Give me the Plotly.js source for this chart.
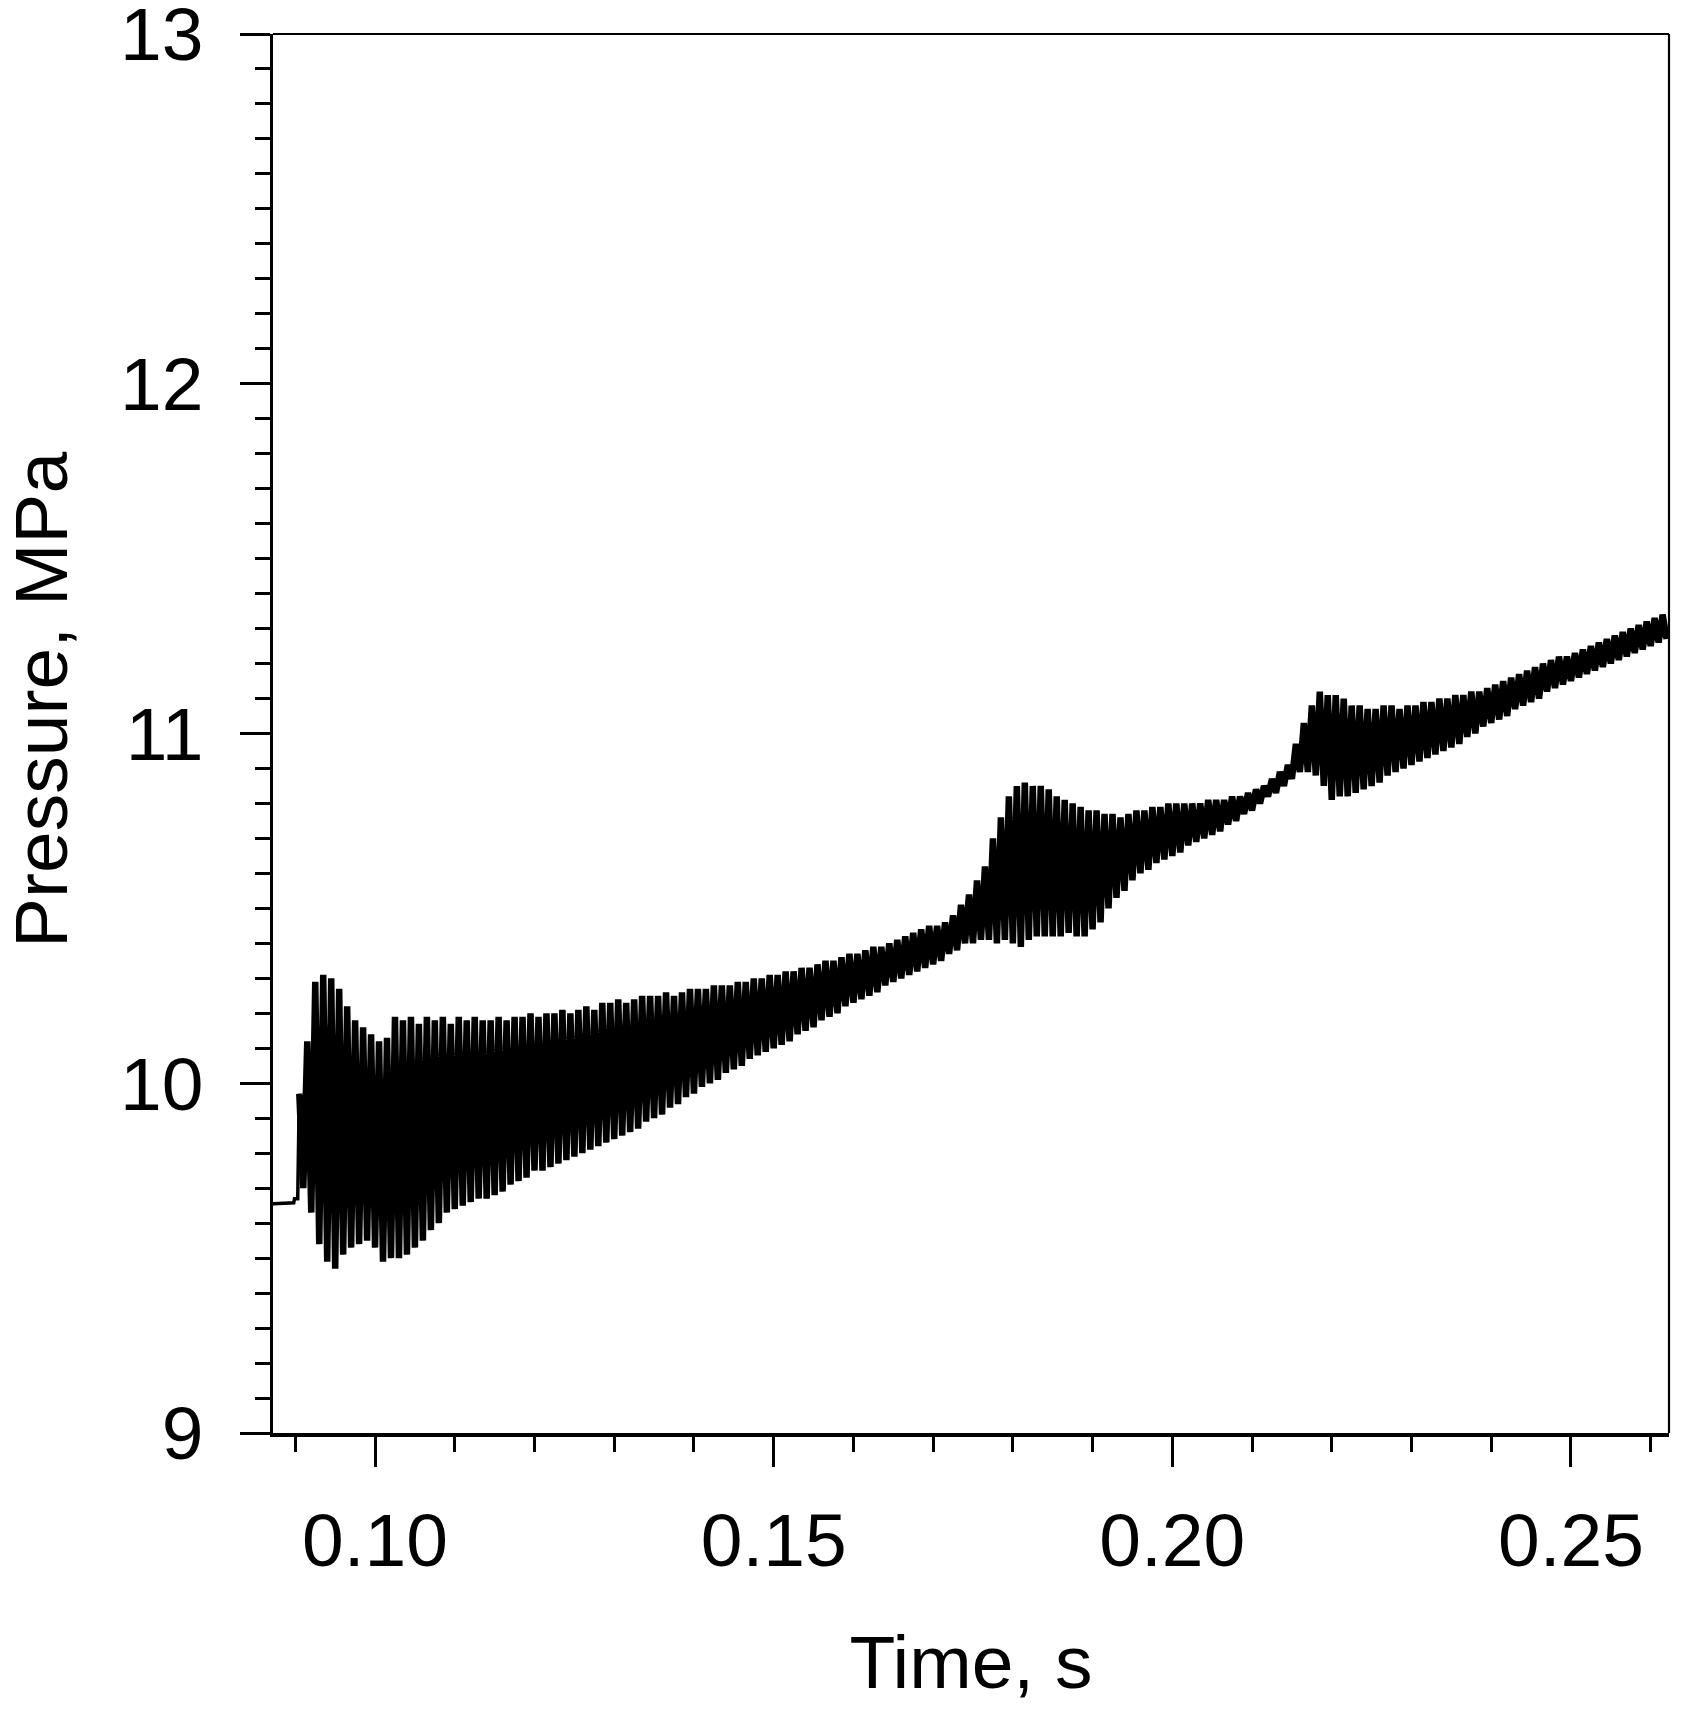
<!DOCTYPE html>
<html>
<head>
<meta charset="utf-8">
<script src="https://cdn.plot.ly/plotly-3.0.1.min.js"></script>
<style>
  html, body { margin: 0; padding: 0; background: #fff; }
  #chart { width: 1689px; height: 1724px; }
</style>
</head>
<body>
<div id="chart"></div>
<script>
// pressure before the oscillation starts (time in s, pressure in MPa)
const preT = [0.0865, 0.0898, 0.0899, 0.0903];
const preP = [9.655, 9.658, 9.67, 9.67];

// oscillation: one peak and one trough per cycle
const firstPeakT = 0.0905;
const cycle = 0.001;

const peakP = [
  9.97, 10.12, 10.29, 10.31, 10.30, 10.27, 10.22, 10.18, 10.16, 10.14,
  10.12, 10.13, 10.19, 10.18, 10.19, 10.17, 10.19, 10.18, 10.19, 10.17,
  10.19, 10.18, 10.19, 10.18, 10.18, 10.19, 10.18, 10.19, 10.19, 10.20,
  10.19, 10.20, 10.20, 10.21, 10.20, 10.21, 10.22, 10.21, 10.23, 10.23,
  10.24, 10.23, 10.24, 10.25, 10.25, 10.25, 10.26, 10.25, 10.26, 10.27,
  10.27, 10.27, 10.28, 10.28, 10.28, 10.29, 10.29, 10.30, 10.30, 10.31,
  10.31, 10.32, 10.32, 10.33, 10.33, 10.34, 10.35, 10.35, 10.36, 10.37,
  10.37, 10.38, 10.39, 10.39, 10.40, 10.41, 10.42, 10.43, 10.44, 10.45,
  10.45, 10.46, 10.48, 10.51, 10.54, 10.58, 10.62, 10.70, 10.76, 10.82,
  10.85, 10.86, 10.85, 10.85, 10.84, 10.82, 10.81, 10.80, 10.79, 10.78,
  10.78, 10.77, 10.77, 10.76, 10.77, 10.78, 10.78, 10.79, 10.79, 10.80,
  10.80, 10.80, 10.80, 10.80, 10.81, 10.81, 10.81, 10.82, 10.82, 10.83,
  10.84, 10.85, 10.87, 10.89, 10.91, 10.97, 11.03, 11.08, 11.12, 11.11,
  11.11, 11.10, 11.08, 11.08, 11.07, 11.07, 11.08, 11.08, 11.07, 11.08,
  11.08, 11.09, 11.09, 11.10, 11.10, 11.11, 11.11, 11.12, 11.12, 11.13,
  11.14, 11.15, 11.16, 11.17, 11.18, 11.19, 11.20, 11.21, 11.22, 11.22,
  11.23, 11.24, 11.25, 11.26, 11.27, 11.28, 11.29, 11.30, 11.31, 11.32,
  11.33, 11.34
];

const troughP = [
  9.70, 9.63, 9.54, 9.49, 9.47, 9.51, 9.53, 9.54, 9.55, 9.53,
  9.49, 9.50, 9.50, 9.51, 9.53, 9.55, 9.58, 9.60, 9.63, 9.64,
  9.65, 9.66, 9.67, 9.67, 9.68, 9.69, 9.71, 9.72, 9.73, 9.75,
  9.75, 9.76, 9.77, 9.78, 9.79, 9.80, 9.81, 9.82, 9.83, 9.84,
  9.85, 9.86, 9.87, 9.89, 9.90, 9.91, 9.93, 9.94, 9.96, 9.97,
  9.99, 10.00, 10.01, 10.03, 10.04, 10.05, 10.07, 10.08, 10.09, 10.10,
  10.11, 10.12, 10.14, 10.15, 10.16, 10.18, 10.19, 10.20, 10.22, 10.23,
  10.24, 10.25, 10.26, 10.28, 10.29, 10.30, 10.31, 10.32, 10.33, 10.34,
  10.35, 10.37, 10.38, 10.40, 10.40, 10.41, 10.41, 10.40, 10.41, 10.40,
  10.39, 10.41, 10.42, 10.42, 10.42, 10.42, 10.43, 10.42, 10.42, 10.44,
  10.46, 10.50, 10.53, 10.55, 10.58, 10.60, 10.61, 10.63, 10.64, 10.65,
  10.66, 10.68, 10.69, 10.70, 10.71, 10.72, 10.74, 10.75, 10.77, 10.78,
  10.80, 10.82, 10.83, 10.85, 10.87, 10.89, 10.89, 10.88, 10.85, 10.81,
  10.82, 10.82, 10.83, 10.84, 10.85, 10.86, 10.88, 10.89, 10.90, 10.91,
  10.92, 10.93, 10.94, 10.95, 10.96, 10.97, 10.99, 11.00, 11.02, 11.03,
  11.04, 11.05, 11.07, 11.08, 11.09, 11.10, 11.12, 11.13, 11.14, 11.15,
  11.16, 11.17, 11.18, 11.19, 11.20, 11.21, 11.22, 11.23, 11.24, 11.25,
  11.26, 11.27
];

// oscillating part: peak/trough per cycle
const xs = [];
const ys = [];
peakP.forEach((p, k) => {
  const t = firstPeakT + k * cycle;
  xs.push(t, t + cycle / 2);
  ys.push(p, troughP[k]);
});

const font = { family: "Liberation Sans, Arial, sans-serif", color: "#000" };

// flat start drawn thin, joined to the first peak
const preTrace = {
  x: preT.concat([xs[0]]),
  y: preP.concat([ys[0]]),
  type: "scatter",
  mode: "lines",
  line: { color: "#000", width: 3.5, simplify: false },
  hoverinfo: "skip",
};

const oscTrace = {
  x: xs,
  y: ys,
  type: "scatter",
  mode: "lines",
  line: { color: "#000", width: 6.5, simplify: false },
  hoverinfo: "skip",
};

const axisBase = {
  showgrid: false,
  zeroline: false,
  showline: true,
  linecolor: "#000",
  linewidth: 3.5,
  ticks: "outside",
  ticklen: 30,
  tickwidth: 3,
  tickcolor: "#000",
  ticklabeloverflow: "allow",
  tickfont: Object.assign({ size: 75 }, font),
};

const layout = {
  width: 1689,
  height: 1724,
  margin: { t: 34, r: 20, b: 291, l: 273 },
  paper_bgcolor: "#fff",
  plot_bgcolor: "#fff",
  showlegend: false,
  xaxis: Object.assign({}, axisBase, {
    range: [0.0872, 0.2623],
    tick0: 0.1,
    dtick: 0.05,
    tickformat: ".2f",
    ticklabelstandoff: 9,
    minor: { dtick: 0.01, tick0: 0.1, ticks: "outside", ticklen: 15, tickwidth: 3, tickcolor: "#000", showgrid: false },
    title: { text: "Time, s", font: Object.assign({ size: 75 }, font), standoff: 56 },
  }),
  yaxis: Object.assign({}, axisBase, {
    range: [9, 13],
    dtick: 1,
    ticklabelstandoff: 21,
    minor: { dtick: 0.1, ticks: "outside", ticklen: 15, tickwidth: 3, tickcolor: "#000", showgrid: false },
  }),
  annotations: [
    {
      text: "Pressure, MPa",
      xref: "paper", yref: "paper",
      x: -0.1662, y: 0.524,
      xanchor: "center", yanchor: "middle",
      textangle: -90,
      showarrow: false,
      font: Object.assign({ size: 75 }, font),
    },
  ],
  shapes: [
    { type: "line", xref: "paper", yref: "paper", x0: 0, x1: 1, y0: 1, y1: 1, line: { color: "#000", width: 2.2 } },
    { type: "line", xref: "paper", yref: "paper", x0: 1, x1: 1, y0: 0, y1: 1, line: { color: "#000", width: 2.2 } },
  ],
};

Plotly.newPlot("chart", [preTrace, oscTrace], layout, { staticPlot: true, displayModeBar: false });
</script>
</body>
</html>
